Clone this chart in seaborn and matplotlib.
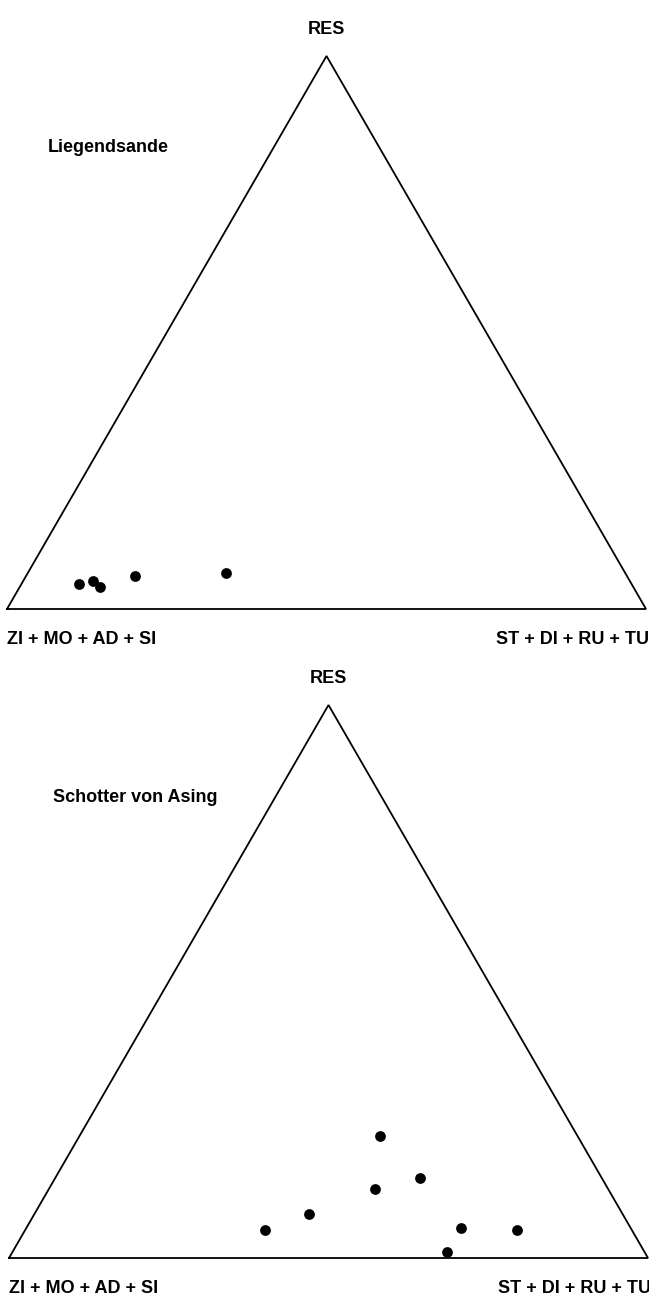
import numpy as np
import pandas as pd
import seaborn as sns
import matplotlib.pyplot as plt

# Ternary compositions in percent (RES, ST+DI+RU+TU, ZI+MO+AD+SI = rest)
CORNER_TOP = "RES"
CORNER_LEFT = "ZI + MO + AD + SI"
CORNER_RIGHT = "ST + DI + RU + TU"

LIEGEND_RES = [4.5, 5.0, 4.0, 6.0, 6.5]
LIEGEND_ST = [9.0, 11.0, 12.5, 17.0, 31.0]

ASING_RES = [22.0, 14.5, 12.5, 8.0, 5.0, 5.5, 5.0, 1.0]
ASING_ST = [47.0, 57.0, 51.0, 43.0, 37.5, 68.0, 77.0, 68.0]

PANELS = [
    ("Liegendsande", LIEGEND_RES, LIEGEND_ST),
    ("Schotter von Asing", ASING_RES, ASING_ST),
]

H = np.sqrt(3) / 2
FONT = ["Liberation Sans", "DejaVu Sans"]


def to_xy(res, st):
    r = np.asarray(res) / 100.0
    b = np.asarray(st) / 100.0
    return b + r / 2, r * H


def draw_panel(ax, title, res, st, title_xy):
    ax.plot([0, 1, 0.5, 0], [0, 0, H, 0], color="black", lw=1.3,
            solid_joinstyle="miter", clip_on=False)
    x, y = to_xy(res, st)
    df = pd.DataFrame({"x": x, "y": y})
    sns.scatterplot(data=df, x="x", y="y", ax=ax, color="black", s=60,
                    edgecolor="black", linewidth=0, legend=False, clip_on=False)
    ax.set_xlim(0, 1)
    ax.set_ylim(0, H)
    ax.axis("off")

    kw = dict(fontsize=13, fontweight="bold", family=FONT, color="black",
              clip_on=False)
    ax.text(0.5, H + 0.042, CORNER_TOP, ha="center", va="center", **kw)
    ax.text(0.0, -0.047, CORNER_LEFT, ha="left", va="center", **kw)
    ax.text(1.005, -0.047, CORNER_RIGHT, ha="right", va="center", **kw)
    ax.text(title_xy[0], title_xy[1], title, ha="left", va="center", **kw)


sns.set_style("white")
plt.rcParams["font.family"] = FONT
plt.rcParams["text.color"] = "black"

fig = plt.figure(figsize=(6.49, 12.98), dpi=100)
W, HT = 649.0, 1298.0

# axes placed in pixel units: (left px, base px from top)
ax_top = fig.add_axes([7 / W, (HT - 609) / HT, 639 / W, 553 / HT])
ax_bot = fig.add_axes([9 / W, (HT - 1258) / HT, 639 / W, 553 / HT])

draw_panel(ax_top, PANELS[0][0], PANELS[0][1], PANELS[0][2], (0.064, 0.723))
draw_panel(ax_bot, PANELS[1][0], PANELS[1][1], PANELS[1][2], (0.069, 0.721))

fig.savefig("out.png", dpi=100, facecolor="white")
